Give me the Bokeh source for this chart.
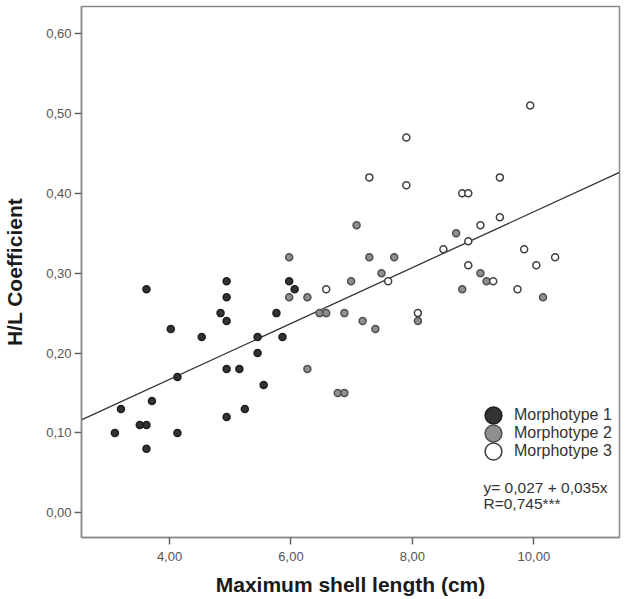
from bokeh.plotting import figure
from bokeh.models import Range1d, FixedTicker, CustomJSTickFormatter, Legend, LegendItem, Label
from bokeh.embed import file_html
from bokeh.resources import INLINE

# Morphotype 1 (dark)
m1_x = [3.10, 3.20, 3.51, 3.62, 3.62, 3.62, 3.71, 4.02, 4.13, 4.13, 4.53, 4.84, 4.94,
        4.94, 4.94, 4.94, 4.94, 5.15, 5.24, 5.45, 5.45, 5.55, 5.76, 5.86, 5.97, 6.06]
m1_y = [0.10, 0.13, 0.11, 0.11, 0.08, 0.28, 0.14, 0.23, 0.17, 0.10, 0.22, 0.25, 0.29,
        0.27, 0.24, 0.18, 0.12, 0.18, 0.13, 0.22, 0.20, 0.16, 0.25, 0.22, 0.29, 0.28]

# Morphotype 2 (grey)
m2_x = [7.08, 5.97, 7.29, 7.70, 7.49, 6.99, 5.97, 6.27, 6.47, 6.58, 6.88, 7.18, 7.39,
        8.09, 6.27, 6.77, 6.88, 8.72, 9.12, 9.22, 8.82, 10.15]
m2_y = [0.36, 0.32, 0.32, 0.32, 0.30, 0.29, 0.27, 0.27, 0.25, 0.25, 0.25, 0.24, 0.23,
        0.24, 0.18, 0.15, 0.15, 0.35, 0.30, 0.29, 0.28, 0.27]

# Morphotype 3 (white)
m3_x = [9.94, 7.90, 7.90, 7.29, 9.44, 8.82, 8.92, 9.44, 9.12, 8.92, 8.51, 9.84, 10.35,
        10.04, 8.92, 9.33, 9.73, 8.09, 7.60, 6.58]
m3_y = [0.51, 0.47, 0.41, 0.42, 0.42, 0.40, 0.40, 0.37, 0.36, 0.34, 0.33, 0.33, 0.32,
        0.31, 0.31, 0.29, 0.28, 0.25, 0.29, 0.28]

series_labels = ["Morphotype 1", "Morphotype 2", "Morphotype 3"]

intercept = 0.027
slope = 0.035
fit_texts = ["y= 0,027 + 0,035x", "R=0,745***"]

x_ticks = [4, 6, 8, 10]
y_ticks = [0.0, 0.1, 0.2, 0.3, 0.4, 0.5, 0.6]

x_lo, x_hi = 2.55, 11.41
y_lo, y_hi = -0.031, 0.634

FONT = "Liberation Sans"

p = figure(width=634, height=599, output_backend="svg", toolbar_location=None,
           x_range=Range1d(x_lo, x_hi), y_range=Range1d(y_lo, y_hi),
           min_border_left=81, min_border_right=15, min_border_top=6, min_border_bottom=62)

p.xgrid.visible = False
p.ygrid.visible = False
p.outline_line_color = "#8a8a8a"
p.outline_line_width = 1.5
p.background_fill_color = "white"
p.border_fill_color = "white"

fmt = CustomJSTickFormatter(code="return tick.toFixed(2).replace('.', ',');")
for ax, ticks in ((p.xaxis[0], x_ticks), (p.yaxis[0], y_ticks)):
    ax.ticker = FixedTicker(ticks=ticks)
    ax.formatter = fmt
    ax.axis_line_color = "#8a8a8a"
    ax.axis_line_width = 1.5
    ax.major_tick_line_color = "#666666"
    ax.major_tick_line_width = 1.5
    ax.major_tick_in = 0
    ax.major_tick_out = 7
    ax.minor_tick_line_color = None
    ax.major_label_text_font = FONT
    ax.major_label_text_font_size = "13px"
    ax.major_label_text_color = "#555555"
    ax.axis_label_text_font = FONT
    ax.axis_label_text_font_style = "bold"
    ax.axis_label_text_font_size = "21px"
    ax.axis_label_text_color = "#1a1a1a"

p.xaxis.axis_label = "Maximum shell length (cm)"
p.yaxis.axis_label = "H/L Coefficient"
p.xaxis.major_label_standoff = 7
p.xaxis.axis_label_standoff = 9
p.yaxis.major_label_standoff = 3
p.yaxis.axis_label_standoff = 17

# regression line
p.line([x_lo, x_hi], [intercept + slope * x_lo, intercept + slope * x_hi],
       line_color="#333333", line_width=1.3)

r1 = p.scatter(m1_x, m1_y, size=7, fill_color="#333333", line_color="#1e1e1e", line_width=1.5)
r2 = p.scatter(m2_x, m2_y, size=7, fill_color="#8f8f8f", line_color="#505050", line_width=1.5)
r3 = p.scatter(m3_x, m3_y, size=7, fill_color="white", line_color="#404040", line_width=1.5)

# one legend box per entry so that the large legend circles can sit close together
for i, (lab, r) in enumerate(zip(series_labels, [r1, r2, r3])):
    lg = Legend(items=[LegendItem(label=lab, renderers=[r])],
                location=(391, 101 - 18 * i), orientation="vertical",
                glyph_width=42, glyph_height=42, label_height=18,
                spacing=0, label_standoff=0, padding=0, margin=0,
                border_line_color=None, background_fill_alpha=0,
                label_text_font=FONT, label_text_font_size="16px",
                label_text_color="#333333")
    p.add_layout(lg)

for txt, ys in zip(fit_texts, (50, 34)):
    p.add_layout(Label(x=402, y=ys, x_units="screen", y_units="screen", text=txt,
                       text_font=FONT, text_font_size="15.5px", text_color="#333333",
                       text_baseline="middle"))

open("out.html", "w").write(file_html(p, INLINE))
